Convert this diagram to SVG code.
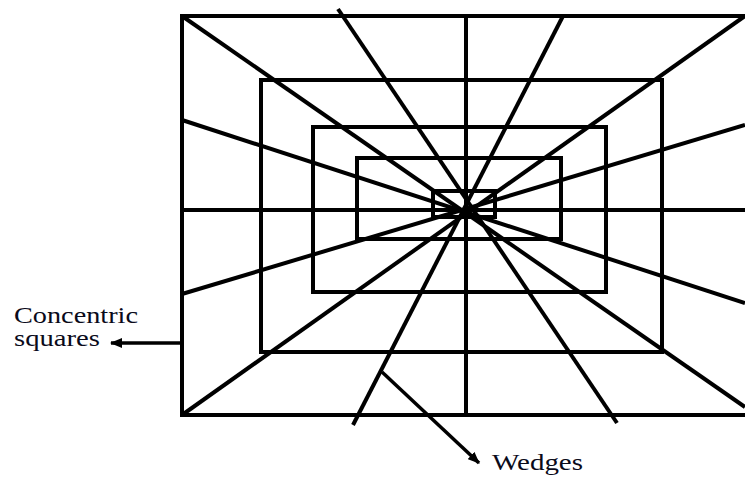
<svg xmlns="http://www.w3.org/2000/svg" width="745" height="477" viewBox="0 0 745 477">
<defs>
<style>
.s{fill:none;stroke:#000;stroke-width:4;stroke-linecap:square}
.w{fill:none;stroke:#000;stroke-width:4;stroke-linecap:butt}
.a{fill:none;stroke:#000;stroke-width:3.5}
.t{font-family:"Liberation Serif","Times New Roman",serif;font-size:23px;fill:#0a0a1a}
</style>
<marker id="ah" viewBox="0 0 12 10" refX="11" refY="5" markerWidth="12" markerHeight="10" markerUnits="userSpaceOnUse" orient="auto">
<path d="M0,0 L12,5 L0,10 Z" fill="#000"/>
</marker>
</defs>
<rect width="745" height="477" fill="#fff"/>
<g id="squares">
<path id="sq1" class="s" d="M749,16 H182 V415 H749"/>
<rect id="sq2" class="s" x="261" y="80" width="401" height="272"/>
<rect id="sq3" class="s" x="313" y="127" width="293" height="165"/>
<rect id="sq4" class="s" x="357" y="158" width="204" height="81"/>
<rect id="sq5" class="s" x="433" y="191" width="62" height="26"/>
</g>
<g id="wedges">
<line class="w" x1="466" y1="16" x2="466" y2="415"/>
<line class="w" x1="182" y1="210" x2="745" y2="210"/>
<line class="w" x1="182" y1="16" x2="745" y2="407"/>
<line class="w" x1="745" y1="16" x2="182" y2="415"/>
<line class="w" x1="338" y1="9" x2="617" y2="423"/>
<line class="w" x1="563" y1="16" x2="353" y2="425"/>
<line class="w" x1="182" y1="120" x2="745" y2="303"/>
<line class="w" x1="182" y1="294" x2="745" y2="125"/>
</g>
<g id="connectors">
<line class="a" x1="182" y1="343" x2="111" y2="343" marker-end="url(#ah)"/>
<line class="a" x1="382" y1="372" x2="479" y2="463" marker-end="url(#ah)"/>
</g>
<g id="label-concentric">
<text class="t" x="14" y="323" textLength="124" lengthAdjust="spacingAndGlyphs">Concentric</text>
<text class="t" x="14" y="346" textLength="86" lengthAdjust="spacingAndGlyphs">squares</text>
</g>
<g id="label-wedges">
<text class="t" x="492" y="470" textLength="91" lengthAdjust="spacingAndGlyphs">Wedges</text>
</g>
</svg>
